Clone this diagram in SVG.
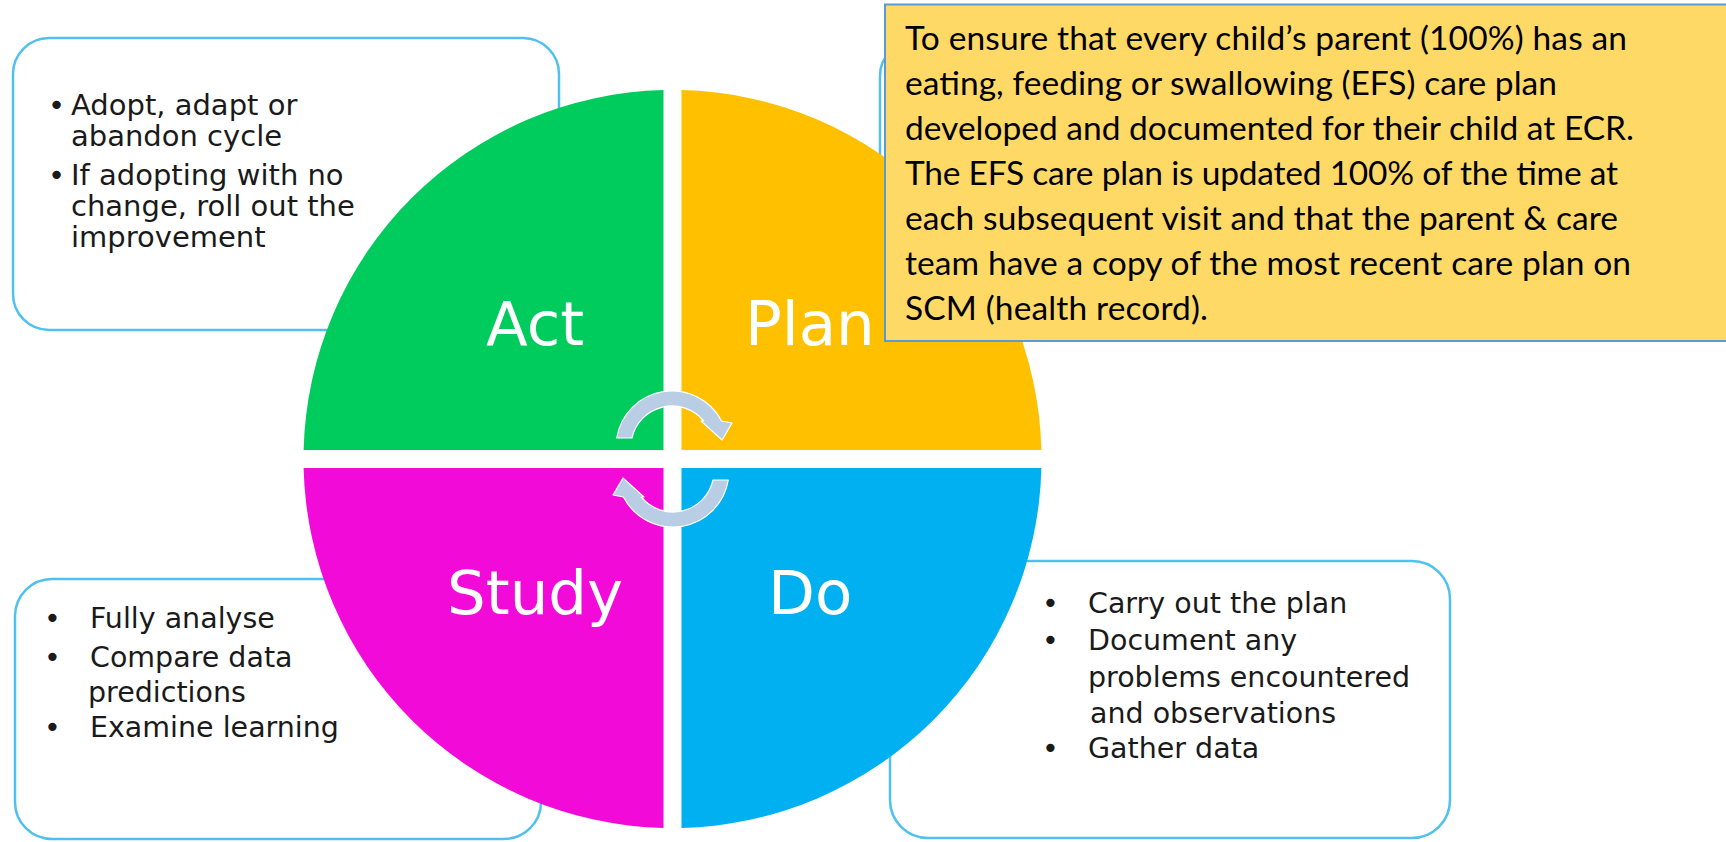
<svg xmlns="http://www.w3.org/2000/svg" width="1726" height="842" viewBox="0 0 1726 842">
  <style>
    .box { fill: #ffffff; stroke: #4fc1ee; stroke-width: 2.5; }
    .note { fill: #ffd966; stroke: #5b9bd5; stroke-width: 2; }
    .body { font-family: "DejaVu Sans", Verdana, sans-serif; font-size: 28.5px; fill: #1a1a1a; }
    .act-body { font-size: 29px; }
    .label { font-family: "DejaVu Sans", Verdana, sans-serif; font-size: 61px; fill: #ffffff; }
    .note-text { font-family: Lato, "Open Sans", sans-serif; font-size: 33.5px; fill: #000000; }
    .cycle { fill: #b9cde5; stroke: #ffffff; stroke-width: 1.2; stroke-linejoin: round; }
  </style>

  <rect width="1726" height="842" fill="#ffffff"/>

  <!-- Side text panels (drawn first so the wheel sits on top of them) -->
  <g id="act-panel">
    <rect class="box" x="13" y="38" width="546" height="292" rx="36" ry="36"/>
    <text class="body act-body" x="48" y="115">•</text>
    <text class="body act-body" x="71" y="115">Adopt, adapt or</text>
    <text class="body act-body" x="71" y="146">abandon cycle</text>
    <text class="body act-body" x="48" y="185">•</text>
    <text class="body act-body" x="71" y="185">If adopting with no</text>
    <text class="body act-body" x="71" y="216">change, roll out the</text>
    <text class="body act-body" x="71" y="247">improvement</text>
  </g>

  <g id="plan-panel">
    <rect class="box" x="880" y="40" width="550" height="290" rx="36" ry="36"/>
  </g>

  <g id="study-panel">
    <rect class="box" x="15" y="579" width="526" height="260" rx="37" ry="37"/>
    <text class="body" x="44" y="628">•</text>
    <text class="body" x="90" y="628">Fully analyse</text>
    <text class="body" x="44" y="667">•</text>
    <text class="body" x="90" y="667">Compare data</text>
    <text class="body" x="88" y="702">predictions</text>
    <text class="body" x="44" y="737">•</text>
    <text class="body" x="90" y="737">Examine learning</text>
  </g>

  <g id="do-panel">
    <rect class="box" x="890" y="561" width="560" height="277" rx="38" ry="38"/>
    <text class="body" x="1042" y="613">•</text>
    <text class="body" x="1088" y="613">Carry out the plan</text>
    <text class="body" x="1042" y="650">•</text>
    <text class="body" x="1088" y="650">Document any</text>
    <text class="body" x="1088" y="687">problems encountered</text>
    <text class="body" x="1090" y="723">and observations</text>
    <text class="body" x="1042" y="758">•</text>
    <text class="body" x="1088" y="758">Gather data</text>
  </g>

  <!-- PDSA wheel: four quadrants around (672.5, 459), r = 369, 18px white cross -->
  <g id="act">
    <path d="M663.5,450 H303.6 A369,369 0 0 1 663.5,90.1 Z" fill="#00cc5e"/>
    <text class="label" x="486" y="345">Act</text>
  </g>
  <g id="plan">
    <path d="M681.5,450 V90.1 A369,369 0 0 1 1041.4,450 Z" fill="#ffc000"/>
    <text class="label" x="745" y="345">Plan</text>
  </g>
  <g id="do">
    <path d="M681.5,468 H1041.4 A369,369 0 0 1 681.5,827.9 Z" fill="#00b0f0"/>
    <text class="label" x="768" y="614">Do</text>
  </g>
  <g id="study">
    <path d="M663.5,468 V827.9 A369,369 0 0 1 303.6,468 Z" fill="#f20ad8"/>
    <text class="label" x="447" y="614">Study</text>
  </g>

  <!-- Clockwise cycle arrows at the hub; the lower one is the upper one turned half a turn -->
  <defs>
    <path id="cycle-arrow" d="M616.7,438 A56,56 0 0 1 721.6,421 L732,423 L722,440 L701,421 L703.7,421 A41,41 0 0 0 632,438 Z"/>
  </defs>
  <g id="connectors">
    <use class="cycle" href="#cycle-arrow"/>
    <use class="cycle" href="#cycle-arrow" transform="rotate(180 672.5 459)"/>
  </g>

  <!-- Aim statement -->
  <g id="aim">
    <rect class="note" x="885" y="4.5" width="842" height="336.5"/>
    <text class="note-text" x="905" y="50" textLength="722">To ensure that every child’s parent (100%) has an</text>
    <text class="note-text" x="905" y="95" textLength="652">eating, feeding or swallowing (EFS) care plan</text>
    <text class="note-text" x="905" y="140" textLength="729">developed and documented for their child at ECR.</text>
    <text class="note-text" x="905" y="185" textLength="713">The EFS care plan is updated 100% of the time at</text>
    <text class="note-text" x="905" y="230" textLength="713">each subsequent visit and that the parent &amp; care</text>
    <text class="note-text" x="905" y="275" textLength="726">team have a copy of the most recent care plan on</text>
    <text class="note-text" x="905" y="320" textLength="303">SCM (health record).</text>
  </g>
</svg>
